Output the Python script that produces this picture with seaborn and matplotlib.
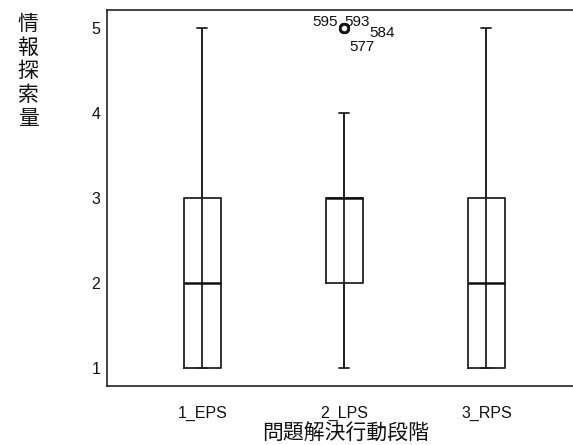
import matplotlib
matplotlib.use("Agg")
import matplotlib.pyplot as plt
import seaborn as sns
import pandas as pd
import numpy as np

# raw scores per phase (chosen to reproduce the box statistics in the figure)
eps_scores = [1, 1, 2, 3, 5]
lps_scores = [1] + [2] * 5 + [3] * 10 + [4] + [5] * 4
rps_scores = [1, 1, 2, 3, 5]
phases = ["1_EPS", "2_LPS", "3_RPS"]

outlier_ids = ["595", "593", "584", "577"]
outlier_phase = "2_LPS"
outlier_value = 5

df = pd.DataFrame({
    "phase": ["1_EPS"] * len(eps_scores) + ["2_LPS"] * len(lps_scores) + ["3_RPS"] * len(rps_scores),
    "score": eps_scores + lps_scores + rps_scores,
})

sns.set_theme(style="white")
plt.rcParams["font.family"] = ["Liberation Sans", "Noto Sans CJK JP", "DejaVu Sans"]

fig = plt.figure(figsize=(5.73, 4.45), dpi=100)
ax = fig.add_axes([0.187, 0.132, 0.813, 0.846])

line = "#222222"
sns.boxplot(data=df, x="phase", y="score", order=phases, ax=ax,
            width=0.26, fill=False, color=line, linewidth=1.3,
            capwidths=0.07,
            medianprops=dict(color="#111111", linewidth=1.8),
            flierprops=dict(marker="o", markersize=6, markeredgewidth=2,
                            markeredgecolor="#111111", markerfacecolor="white"))

# the SPSS-style whisker runs straight through the box
for i, p in enumerate(phases):
    v = df.loc[df.phase == p, "score"].to_numpy()
    q1, q3 = np.percentile(v, [25, 75])
    iqr = q3 - q1
    lo = v[v >= q1 - 1.5 * iqr].min()
    hi = v[v <= q3 + 1.5 * iqr].max()
    ax.vlines(i, lo, hi, color=line, linewidth=1.3, zorder=1)

# case numbers of the outliers
xi = phases.index(outlier_phase)
offsets = [(-5, 2, "right", "baseline"), (0, 2, "left", "baseline"),
           (18, -3, "left", "center"), (3.6, -8.6, "left", "top")]
for lab, (dx, dy, ha, va) in zip(outlier_ids, offsets):
    ax.annotate(lab, (xi, outlier_value), xytext=(dx, dy), textcoords="offset points",
                ha=ha, va=va, fontsize=11, color="#111111")

ax.set_xlim(-0.67, 2.61)
ax.set_ylim(0.79, 5.22)
ax.set_yticks([1, 2, 3, 4, 5])
ax.tick_params(direction="in", length=4.5, width=1, color="#555555",
               labelsize=11.5, labelcolor="#111111")
ax.tick_params(axis="x", pad=14)
ax.tick_params(axis="y", pad=5)
for s in ["left", "bottom", "top"]:
    ax.spines[s].set_color("#222222")
    ax.spines[s].set_linewidth(1.2)
ax.spines["right"].set_visible(False)

ax.set_xlabel("問題解決行動段階", fontsize=15, family=["Noto Sans CJK JP"], color="#111111")
ax.xaxis.set_label_coords(0.511, -0.126)
ax.xaxis.label.set_va("center")
ax.set_ylabel("情\n報\n探\n索\n量", fontsize=15, family=["Noto Sans CJK JP"], color="#111111",
              rotation=0, ha="center", va="top", linespacing=1.1)
ax.yaxis.set_label_coords(-0.17, 0.992)

fig.savefig("out.png", dpi=100)
